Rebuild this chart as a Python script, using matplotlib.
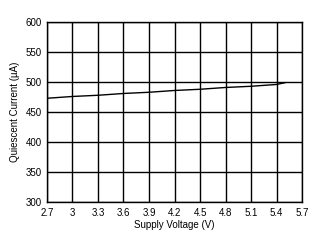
import matplotlib
matplotlib.use("Agg")
import matplotlib.pyplot as plt
import numpy as np

# supply voltage (V) vs quiescent current (uA)
voltage = [2.7, 3.0, 3.3, 3.6, 3.9, 4.2, 4.5, 4.8, 5.1, 5.4, 5.5]
current = [473, 476, 478, 481, 483, 486, 488, 491, 493, 496, 499]

xticks = [2.7, 3, 3.3, 3.6, 3.9, 4.2, 4.5, 4.8, 5.1, 5.4, 5.7]
xticklabels = ["2.7", "3", "3.3", "3.6", "3.9", "4.2", "4.5", "4.8", "5.1", "5.4", "5.7"]
yticks = [300, 350, 400, 450, 500, 550, 600]

plt.rcParams['font.family'] = ['Liberation Sans', 'DejaVu Sans']

fig = plt.figure(figsize=(3.23, 2.43), dpi=100)
ax = fig.add_axes([0.1455, 0.1687, 0.7895, 0.7403])

ax.plot(voltage, current, color="black", linewidth=1.0)

ax.set_xlim(2.7, 5.7)
ax.set_ylim(300, 600)
ax.set_xticks(xticks)
ax.set_xticklabels(xticklabels)
ax.set_yticks(yticks)
ax.grid(True, color="black", linewidth=1.0)
ax.tick_params(length=0, labelsize=7, pad=4)
for s in ax.spines.values():
    s.set_linewidth(1.0)

ax.set_xlabel("Supply Voltage (V)", fontsize=7, labelpad=2)
ax.set_ylabel("Quiescent Current (\u00b5A)", fontsize=7, labelpad=4)

fig.savefig("out.png", dpi=100)
